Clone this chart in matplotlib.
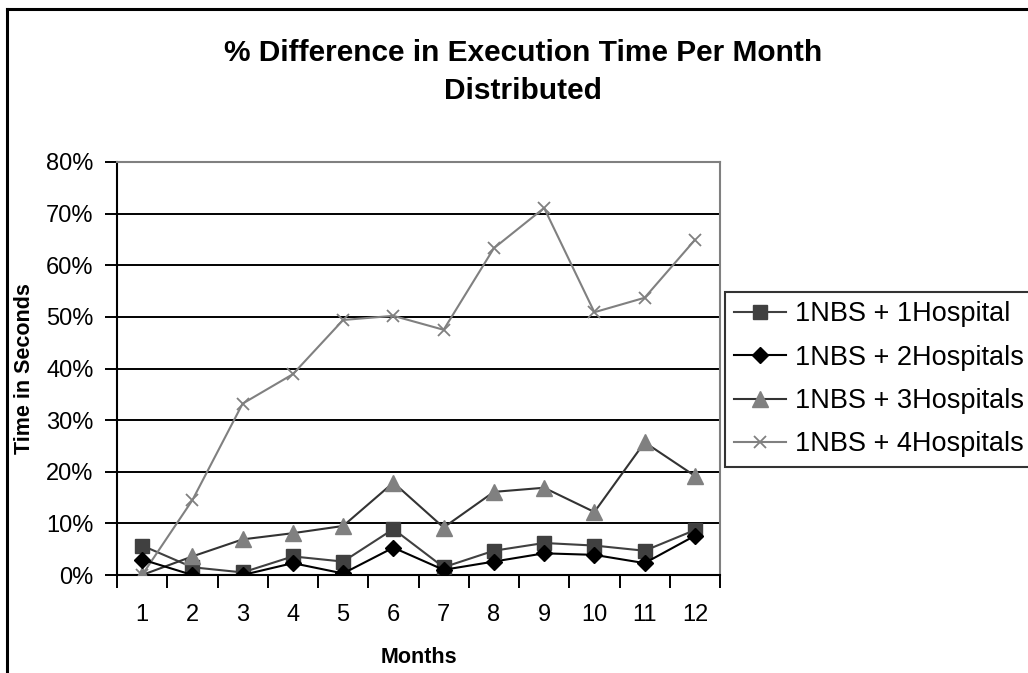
import matplotlib
matplotlib.use('Agg')
import matplotlib.pyplot as plt
from matplotlib.lines import Line2D
from matplotlib.ticker import PercentFormatter, FixedLocator

plt.rcParams['font.family'] = ['Liberation Sans', 'DejaVu Sans']

# ---- data (percent difference per month) ----
months = [1, 2, 3, 4, 5, 6, 7, 8, 9, 10, 11, 12]
month_labels = [str(m) for m in months]

nbs_1hosp = [5.7, 1.5, 0.5, 3.6, 2.6, 8.9, 1.5, 4.7, 6.2, 5.7, 4.7, 8.7]
nbs_2hosp = [3.0, 0.0, 0.0, 2.3, 0.3, 5.3, 1.0, 2.6, 4.2, 3.9, 2.3, 7.6]
nbs_3hosp = [0.0, 3.6, 6.9, 8.1, 9.5, 17.9, 9.2, 16.1, 16.9, 12.2, 25.7, 19.2]
nbs_4hosp = [0.0, 14.5, 33.2, 38.9, 49.4, 50.2, 47.5, 63.3, 71.1, 50.9, 53.7, 64.9]

series_names = ['1NBS + 1Hospital', '1NBS + 2Hospitals',
                '1NBS + 3Hospitals', '1NBS + 4Hospitals']
y_ticks = [0, 10, 20, 30, 40, 50, 60, 70, 80]

W, H = 1028, 673
fig = plt.figure(figsize=(W / 100, H / 100), dpi=100)
fig.patch.set_facecolor('white')

# plot area in pixel terms
left, right, top, bottom = 117, 720, 162, 575
ax = fig.add_axes([left / W, 1 - bottom / H, (right - left) / W, (bottom - top) / H])

# gridlines (black), the top one is the grey frame
for yv in y_ticks[1:-1]:
    ax.axhline(yv, color='black', lw=1.4, zorder=1)

ax.plot(months, nbs_1hosp, color='#404040', lw=1.5, marker='s', ms=9.5,
        mfc='#404040', mec='#404040', label=series_names[0], zorder=3)
ax.plot(months, nbs_2hosp, color='black', lw=1.5, marker='D', ms=8,
        mfc='black', mec='black', label=series_names[1], zorder=4)
ax.plot(months, nbs_3hosp, color='#333333', lw=1.5, marker='^', ms=11,
        mfc='#808080', mec='#808080', label=series_names[2], zorder=3)
ax.plot(months, nbs_4hosp, color='#808080', lw=1.5, marker='x', ms=8,
        mew=1.3, mfc='#808080', mec='#808080', label=series_names[3], zorder=3)

ax.set_xlim(0.5, 12.5)
ax.set_ylim(0, 80)
ax.set_xticks(months)
ax.set_xticklabels(month_labels)
ax.xaxis.set_minor_locator(FixedLocator([m - 0.5 for m in months] + [12.5]))
ax.tick_params(axis='x', which='major', length=0, pad=21, labelsize=17)
ax.tick_params(axis='x', which='minor', length=9, width=1.4, direction='out')
ax.set_yticks(y_ticks)
ax.yaxis.set_major_formatter(PercentFormatter(decimals=0))
ax.tick_params(axis='y', length=9, width=1.4, direction='out', pad=8, labelsize=17)

for side in ['left', 'bottom']:
    ax.spines[side].set_color('black')
    ax.spines[side].set_linewidth(1.5)
for side in ['top', 'right']:
    ax.spines[side].set_color('#808080')
    ax.spines[side].set_linewidth(1.5)

ax.set_xlabel('Months', fontsize=15.5, fontweight='bold', labelpad=15)
ax.set_ylabel('Time in Seconds', fontsize=15.5, fontweight='bold', labelpad=8)

fig.text(523 / W, 1 - 72 / H,
         '% Difference in Execution Time Per Month\nDistributed',
         ha='center', va='center', fontsize=21.5, fontweight='bold', linespacing=1.45)

leg = fig.legend(loc='upper left', bbox_to_anchor=(725 / W, 1 - 292 / H),
                 fontsize=19.5, frameon=True, fancybox=False, borderaxespad=0,
                 handlelength=1.9, handletextpad=0.35, labelspacing=0.64,
                 borderpad=0.35)
leg.get_frame().set_edgecolor('black')
leg.get_frame().set_linewidth(1.5)

# outer chart border (left and top visible, rest cut off)
fig.add_artist(Line2D([7 / W, 7 / W], [0, 1 - 9 / H], color='black', lw=2.2,
                      transform=fig.transFigure))
fig.add_artist(Line2D([7 / W, 1], [1 - 9 / H, 1 - 9 / H], color='black', lw=2.2,
                      transform=fig.transFigure))

fig.savefig('out.png', dpi=100, facecolor='white')
